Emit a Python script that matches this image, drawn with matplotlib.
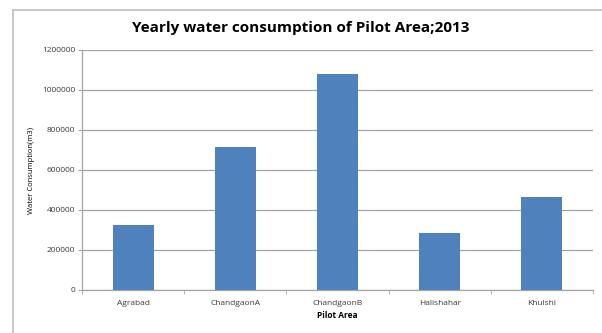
import numpy as np
import matplotlib.pyplot as plt
from matplotlib.lines import Line2D

areas = ['Agrabad', 'ChandgaonA', 'ChandgaonB', 'Halishahar', 'Khulshi']
consumption = [326000, 714000, 1080000, 284000, 466000]
yticks = [0, 200000, 400000, 600000, 800000, 1000000, 1200000]

BAR_COLOR = '#4F81BD'
GRID_COLOR = '#A6A6A6'

plt.rcParams['font.family'] = ['Open Sans', 'DejaVu Sans']

fig = plt.figure(figsize=(6.02, 3.33), dpi=100)
ax = fig.add_axes([82/602, 43/333, 511/602, 240/333])

x = np.arange(len(areas))
ax.bar(x, consumption, width=0.4, color=BAR_COLOR, zorder=3)

ax.set_xlim(-0.5, len(areas) - 0.5)
ax.set_ylim(0, 1200000)
ax.set_yticks(yticks)
ax.set_yticklabels([str(v) for v in yticks], fontsize=6, color='#3a3a3a')
ax.set_xticks(x)
ax.set_xticklabels(areas, fontsize=6, color='#3a3a3a')
ax.set_xticks(np.arange(-0.5, len(areas)), minor=True)
ax.tick_params(axis='x', which='major', length=0, pad=7)
ax.tick_params(axis='x', which='minor', length=3, color=GRID_COLOR)
ax.tick_params(axis='y', length=3, color=GRID_COLOR, pad=2)

ax.grid(axis='y', color=GRID_COLOR, linewidth=0.9, zorder=0)
for s in ['top', 'right']:
    ax.spines[s].set_visible(False)
for s in ['left', 'bottom']:
    ax.spines[s].set_color(GRID_COLOR)
    ax.spines[s].set_linewidth(0.9)

ax.set_xlabel('Pilot Area', fontsize=6, fontweight='bold', labelpad=3)
ax.set_ylabel('Water Consumption(m3)', fontsize=5.5, labelpad=5)
fig.text(0.5, 1 - 28/333, 'Yearly water consumption of Pilot Area;2013',
         ha='center', va='center', fontsize=11, fontweight='bold')

# chart border (cropped Excel frame)
fig.add_artist(Line2D([13/602, 13/602], [0, 1 - 10/333], color='#BFBFBF',
                      linewidth=1.2, transform=fig.transFigure))
fig.add_artist(Line2D([13/602, 1], [1 - 10/333, 1 - 10/333], color='#BFBFBF',
                      linewidth=1.2, transform=fig.transFigure))

fig.savefig('out.png', dpi=100)
